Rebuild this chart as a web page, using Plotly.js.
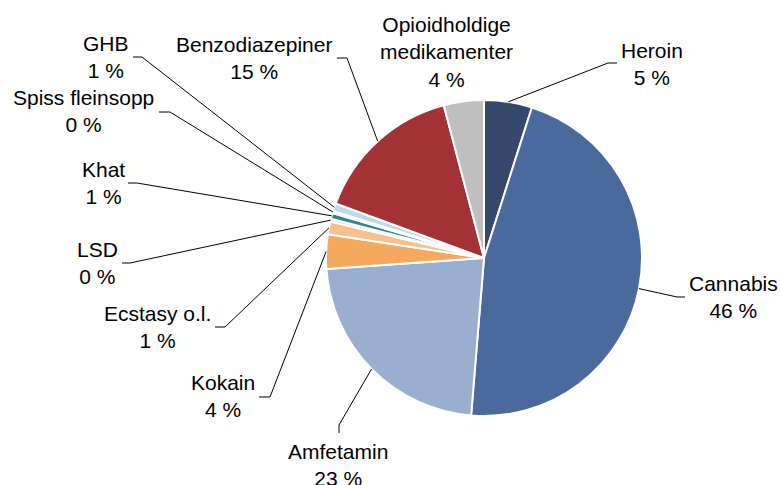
<!DOCTYPE html>
<html>
<head>
<meta charset="utf-8">
<script src="https://cdn.plot.ly/plotly-3.0.1.min.js"></script>
<style>html,body{margin:0;padding:0;background:#fff;}#chart{width:780px;height:485px;}</style>
</head>
<body>
<div id="chart"></div>
<script>
// Data
const labels = ["Heroin", "Cannabis", "Amfetamin", "Kokain", "Ecstasy o.l.", "LSD", "Khat", "Spiss fleinsopp", "GHB", "Benzodiazepiner", "Opioidholdige<br>medikamenter"];
const values = [4.9, 46.4, 22.6, 3.5, 1.3, 0.3, 0.6, 0.2, 0.8, 15.3, 4.1];
const colors = ["#36486B", "#4A6A9D", "#9AAED0", "#F5A95E", "#F9C08E", "#FCD6B6", "#2E8691", "#93CDDD", "#B9DDE5", "#A33234", "#BFBFBF"];

// Layout constants (pixels)
const W = 780, H = 485;
const cx = 484, cy = 258, R = 158;
// label block centers and leader-line elbows/ends (null = no leader)
const labelPos = [[652, 64], [733, 297], [338, 465], [223, 396], [157, 327], [97, 263], [103, 183], [83, 111], [106, 57], [254, 58], [446, 52]];
const leaderPts = [
  [[608, 63], [617, 63]],
  [[677, 297], [685, 297]],
  [[339, 425], [339, 433]],
  [[270, 397], [259, 397]],
  [[225, 327], [215, 327]],
  [[130, 263], [122, 263]],
  [[137, 183], [128, 183]],
  [[170, 112], [159, 112]],
  [[142, 57], [133, 57]],
  [[347, 58], [337, 58]],
  null
];

const px = x => x / W;
const py = y => 1 - y / H;
const font = {family: "Liberation Sans, Arial, sans-serif", size: 21, color: "#000"};

const total = values.reduce((a, b) => a + b, 0);
const annotations = [];
const shapes = [];
let cum = 0;
values.forEach((v, i) => {
  const mid = (cum + v / 2) / total * 2 * Math.PI;
  cum += v;
  annotations.push({
    x: px(labelPos[i][0]), y: py(labelPos[i][1]), xref: "paper", yref: "paper",
    text: labels[i] + "<br>" + Math.round(v) + " %",
    showarrow: false, xanchor: "center", yanchor: "middle", align: "center", font: font
  });
  if (leaderPts[i]) {
    const sx = cx + R * Math.sin(mid), sy = cy - R * Math.cos(mid);
    const pts = [[sx, sy]].concat(leaderPts[i]);
    const path = pts.map((p, k) => (k ? "L" : "M") + px(p[0]).toFixed(5) + "," + py(p[1]).toFixed(5)).join(" ");
    shapes.push({type: "path", xref: "paper", yref: "paper", path: path, line: {color: "#000", width: 1}});
  }
});

const trace = {
  type: "pie",
  labels: labels,
  values: values,
  sort: false,
  direction: "clockwise",
  rotation: 0,
  textinfo: "none",
  hoverinfo: "label+percent",
  marker: {colors: colors, line: {color: "#fff", width: 2}},
  domain: {x: [(cx - R) / W, (cx + R) / W], y: [1 - (cy + R) / H, 1 - (cy - R) / H]}
};

Plotly.newPlot("chart", [trace], {
  width: W, height: H,
  margin: {l: 0, r: 0, t: 0, b: 0},
  showlegend: false,
  paper_bgcolor: "#fff",
  annotations: annotations,
  shapes: shapes
}, {displayModeBar: false, staticPlot: true});
</script>
</body>
</html>
